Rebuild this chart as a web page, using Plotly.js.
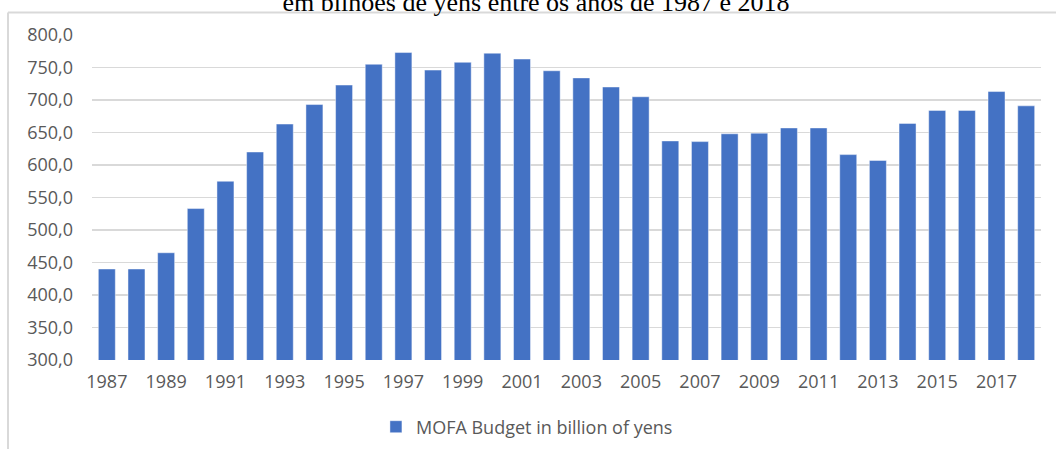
<!DOCTYPE html>
<html>
<head>
<meta charset="utf-8">
<script src="https://cdn.plot.ly/plotly-3.0.1.min.js"></script>
<style>html,body{margin:0;padding:0;background:#fff;}#chart{width:1056px;height:449px;}</style>
</head>
<body>
<div id="chart"></div>
<script>
const years = [1987,1988,1989,1990,1991,1992,1993,1994,1995,1996,1997,1998,1999,2000,2001,2002,2003,2004,2005,2006,2007,2008,2009,2010,2011,2012,2013,2014,2015,2016,2017,2018];
const budget = [440,440,465,533,575,620,663,693,723,755,773,746,758,772,763,745,734,720,705,637,636,648,649,657,657,616,607,664,684,684,713,691];
const tickYears = [1987,1989,1991,1993,1995,1997,1999,2001,2003,2005,2007,2009,2011,2013,2015,2017];
const seriesName = 'MOFA Budget in billion of yens';
const titleText = 'em bilhões de yens entre os anos de 1987 e 2018';

const W = 1056, H = 449;
const m = {l: 92, r: 15, t: 35, b: 89};
const pw = W - m.l - m.r, ph = H - m.t - m.b;
const px = v => (v - m.l) / pw;
const py = v => (H - m.b - v) / ph;
const frame = '#d9d9d9';

const trace = {
  type: 'bar', x: years, y: budget, name: seriesName,
  marker: {color: '#4472C4', line: {color: 'rgba(255,255,255,0.45)', width: 1}},
  hoverinfo: 'x+y', showlegend: true
};

const layout = {
  width: W, height: H,
  margin: m,
  paper_bgcolor: '#fff', plot_bgcolor: '#fff',
  separators: ',.',
  bargap: 0.427,
  font: {family: 'Open Sans, sans-serif', color: '#595959', size: 18},
  title: {text: titleText, font: {family: 'Liberation Serif, Times New Roman, serif', size: 26, color: '#000'},
          x: 0.5076, xanchor: 'center', xref: 'container', y: 1 - 11/H, yanchor: 'bottom', yref: 'container'},
  xaxis: {range: [1986.5, 2018.5], tickmode: 'array', tickvals: tickYears, ticktext: tickYears.map(String),
          showgrid: false, zeroline: false, showline: false, ticks: '', ticklabelstandoff: 9,
          tickfont: {size: 18, color: '#595959'}, fixedrange: true},
  yaxis: {range: [300, 800], dtick: 50, tick0: 300, tickformat: '.1f',
          showgrid: true, gridcolor: '#d9d9d9', gridwidth: 1.6, zeroline: false, showline: false, ticks: '',
          ticklabelstandoff: 18, tickfont: {size: 18, color: '#595959'}, fixedrange: true},
  showlegend: true,
  legend: {orientation: 'h', x: 0.499, xref: 'container', xanchor: 'center', y: 1 - 427/H, yref: 'container', yanchor: 'middle',
           font: {size: 18, color: '#595959'}, bgcolor: 'rgba(0,0,0,0)'},
  shapes: [
    {type: 'line', xref: 'paper', yref: 'paper', x0: px(8), x1: px(1056), y0: py(12.5), y1: py(12.5), line: {color: frame, width: 2}},
    {type: 'line', xref: 'paper', yref: 'paper', x0: px(8), x1: px(8), y0: py(12.5), y1: py(449), line: {color: frame, width: 2}}
  ]
};

Plotly.newPlot('chart', [trace], layout, {displayModeBar: false, staticPlot: true});
</script>
</body>
</html>
